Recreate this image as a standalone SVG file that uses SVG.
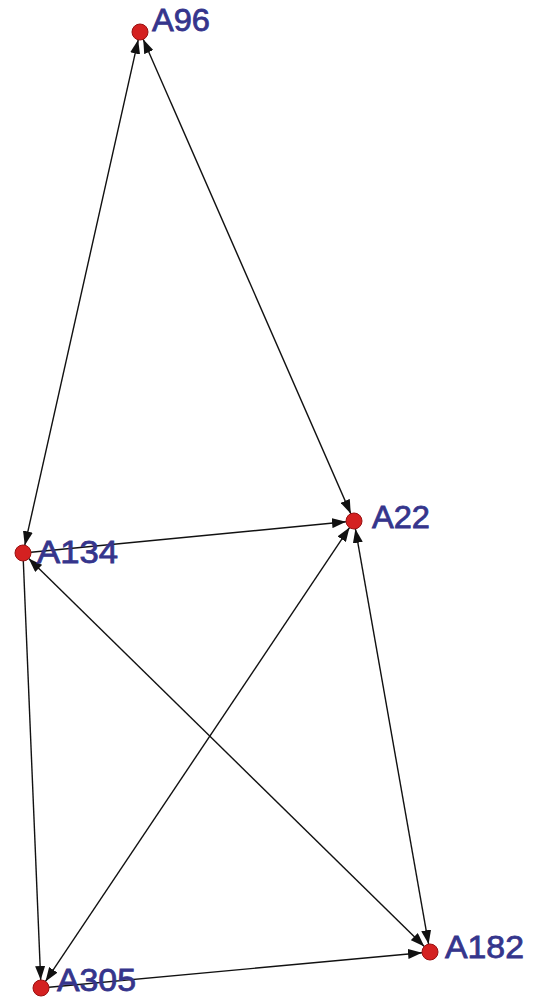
<svg xmlns="http://www.w3.org/2000/svg" width="541" height="1008" viewBox="0 0 541 1008">
<style>
.edge{stroke:#111;stroke-width:1.4;fill:none}
.node{fill:#d42121;stroke:#9a1010;stroke-width:1}
.lbl{font-family:"Liberation Sans",Arial,sans-serif;font-size:32px;fill:#35358c;stroke:#35358c;stroke-width:0.8}
</style>
<defs>
<marker id="ah" viewBox="0 0 14 10" refX="14" refY="5" markerWidth="14" markerHeight="10" markerUnits="userSpaceOnUse" orient="auto-start-reverse">
<path d="M0,0 L14,5 L0,10 z" fill="#111"/>
</marker>
</defs>
<rect width="541" height="1008" fill="#fff"/>
<g id="connectors">
<line class="edge" x1="138.2" y1="39.8" x2="24.8" y2="545.2" marker-start="url(#ah)" marker-end="url(#ah)"/>
<line class="edge" x1="143.2" y1="39.3" x2="350.8" y2="513.7" marker-start="url(#ah)" marker-end="url(#ah)"/>
<line class="edge" x1="31" y1="552.2" x2="346" y2="521.8" marker-end="url(#ah)"/>
<line class="edge" x1="23.3" y1="561" x2="40.7" y2="980" marker-end="url(#ah)"/>
<line class="edge" x1="28.7" y1="558.6" x2="424.3" y2="946.4" marker-start="url(#ah)" marker-end="url(#ah)"/>
<line class="edge" x1="349.5" y1="527.6" x2="45.5" y2="981.4" marker-start="url(#ah)" marker-end="url(#ah)"/>
<line class="edge" x1="355.4" y1="528.9" x2="428.6" y2="944.1" marker-start="url(#ah)" marker-end="url(#ah)"/>
<line class="edge" x1="49" y1="987.3" x2="422" y2="952.7" marker-end="url(#ah)"/>
</g>
<g id="A96"><circle class="node" cx="140" cy="32" r="8"/><text class="lbl" x="152" y="31" textLength="58" lengthAdjust="spacingAndGlyphs">A96</text></g>
<g id="A134"><circle class="node" cx="23" cy="553" r="8"/><text class="lbl" x="37" y="563" textLength="81" lengthAdjust="spacingAndGlyphs">A134</text></g>
<g id="A22"><circle class="node" cx="354" cy="521" r="8"/><text class="lbl" x="372" y="528" textLength="58" lengthAdjust="spacingAndGlyphs">A22</text></g>
<g id="A182"><circle class="node" cx="430" cy="952" r="8"/><text class="lbl" x="445" y="958" textLength="79" lengthAdjust="spacingAndGlyphs">A182</text></g>
<g id="A305"><circle class="node" cx="41" cy="988" r="8"/><text class="lbl" x="57" y="991" textLength="79" lengthAdjust="spacingAndGlyphs">A305</text></g>
</svg>
